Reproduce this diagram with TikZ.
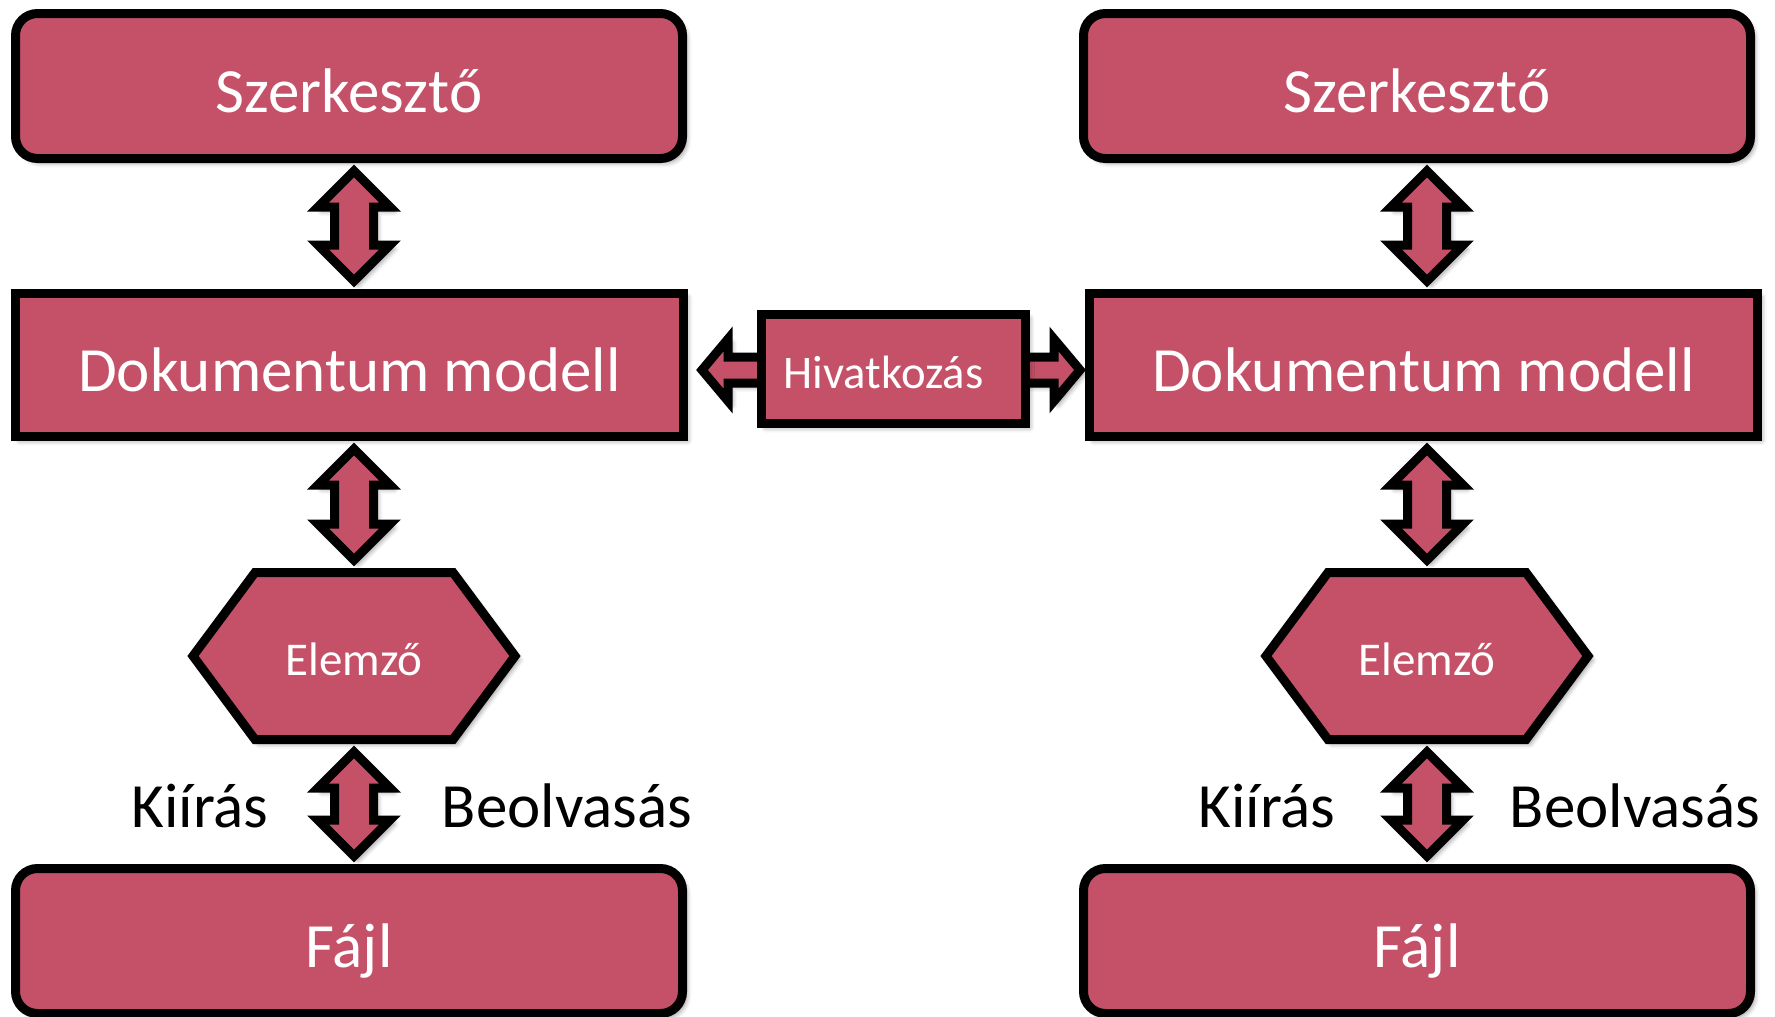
\documentclass[tikz,border=0pt]{standalone}
\usepackage{fontspec}
\setmainfont{Carlito}
\usetikzlibrary{calc,shadows.blur}
\definecolor{boxfill}{RGB}{197,81,104}
\tikzset{
  softshadow/.style={blur shadow={shadow xshift=4pt,shadow yshift=-4pt,
      shadow blur radius=5pt,shadow opacity=45}},
  outline/.style={draw=black,line width=9pt,fill=boxfill,line join=miter,softshadow},
  block/.style={outline,text=white,inner sep=0pt,outer sep=4.5pt,
      font=\fontsize{63}{70}\selectfont,text height=52pt,text depth=0pt},
  roundblock/.style={block,rounded corners=22pt,minimum width=667pt,minimum height=145pt},
  sharpblock/.style={block,minimum width=668pt,minimum height=143pt},
  smallblock/.style={block,font=\fontsize{46.7}{52}\selectfont,text height=38pt,
      minimum width=264pt,minimum height=109pt},
  hexlabel/.style={text=white,inner sep=0pt,outer sep=0pt,
      font=\fontsize{47}{52}\selectfont,text height=38pt,text depth=0pt,
      minimum width=334pt,minimum height=176pt},
  linkshape/.style={outline},
  sidelabel/.style={font=\fontsize{63}{70}\selectfont,anchor=base,inner sep=0pt},
}
% vertical two-headed link: #1 column node, #2 upper node, #3 lower node
\newcommand\vlink[3]{%
  \draw[linkshape]
    ($(#1 |- #2.south)+(0,8)$) -- ++(36,36) -- ++(-16.5,0)
    -- ($(#1 |- #3.north)+(19.5,-44)$) -- ++(16.5,0)
    -- ($(#1 |- #3.north)+(0,-8)$) -- ++(-36,-36) -- ++(16.5,0)
    -- ($(#1 |- #2.south)+(-19.5,44)$) -- ++(-16.5,0) -- cycle;
}
% horizontal two-headed link: #1 row node, #2 left node, #3 right node
\newcommand\hlink[3]{%
  \draw[linkshape]
    ($(#2.east |- #1)+(14,0)$) -- ++(26,-31) -- ++(0,18)
    -- ($(#3.west |- #1)+(-31,-13)$) -- ++(0,-18)
    -- ($(#3.west |- #1)+(-5,0)$) -- ++(-26,31) -- ++(0,-18)
    -- ($(#2.east |- #1)+(40,13)$) -- ++(0,18) -- cycle;
}
% hexagon outline around a centre point
\newcommand\hexat[1]{%
  \draw[outline]
    ($(#1)+(-161,0)$) -- ($(#1)+(-99,-83.5)$) -- ($(#1)+(99,-83.5)$)
    -- ($(#1)+(161,0)$) -- ($(#1)+(99,83.5)$) -- ($(#1)+(-99,83.5)$) -- cycle;
}
\begin{document}
\begin{tikzpicture}[x=1pt,y=-1pt]
  \useasboundingbox (0,0) rectangle (1775,1017);

  % left stack
  \node[roundblock] (sz1) at (349,86) {Szerkesztő};
  \node[sharpblock] (dok1) at (349.5,365) {Dokumentum modell};
  \coordinate (c1) at (354,656);
  \hexat{c1}
  \node[hexlabel] (el1) at (c1) {Elemző};
  \node[roundblock] (fa1) at (349,941) {Fájl};

  % right stack
  \node[roundblock] (sz2) at (1417,86) {Szerkesztő};
  \node[sharpblock] (dok2) at (1423.5,365) {Dokumentum modell};
  \coordinate (c2) at (1427,656);
  \hexat{c2}
  \node[hexlabel] (el2) at (c2) {Elemző};
  \node[roundblock] (fa2) at (1417,941) {Fájl};

  % links inside each stack
  \vlink{el1}{sz1}{dok1}
  \vlink{el1}{dok1}{el1}
  \vlink{el1}{el1}{fa1}
  \vlink{el2}{sz2}{dok2}
  \vlink{el2}{dok2}{el2}
  \vlink{el2}{el2}{fa2}

  % reference between the two models
  \coordinate (mid) at (893.5,370);
  \hlink{mid}{dok1}{dok2}
  \node[smallblock] (hiv) at (893.5,369) {Hivatkozás\hspace*{20pt}};

  % write / read labels
  \node[sidelabel] (ki1) at (200,827) {Kiírás};
  \node[sidelabel] (be1) at (567,827) {Beolvasás};
  \node[sidelabel] (ki2) at (1267,827) {Kiírás};
  \node[sidelabel] (be2) at (1635,827) {Beolvasás};
\end{tikzpicture}
\end{document}
